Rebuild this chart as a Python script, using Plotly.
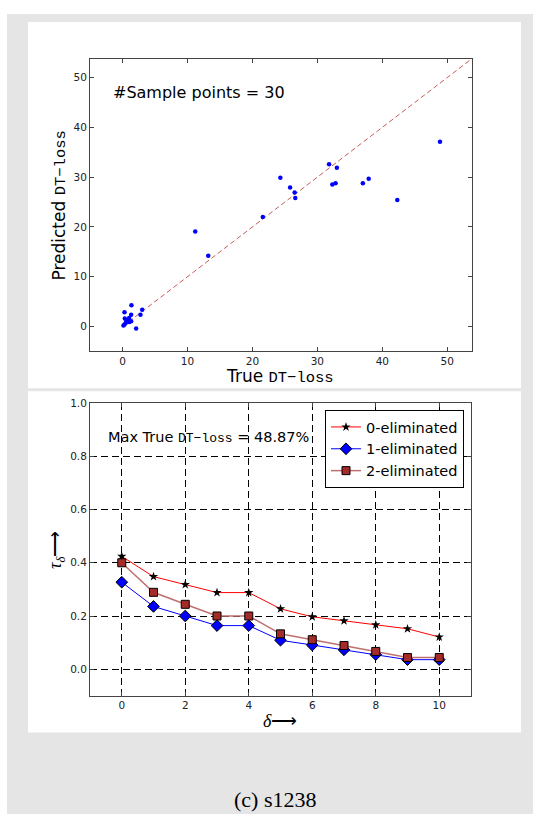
import plotly.graph_objects as go

# ---- scatter: true vs predicted DT-loss (30 sample points) ----
true_loss = [48.87, 42.3, 37.9, 37.0, 31.8, 33.0, 32.3, 32.8, 24.3, 25.8,
             26.5, 26.6, 21.6, 11.2, 13.2, 1.38, 0.31, 3.03, 2.77, 0.36,
             1.03, 1.33, 0.62, 1.03, 1.33, 0.31, 0.15, 2.10, 0.80, 0.50]
pred_loss = [37.1, 25.4, 29.7, 28.75, 32.6, 31.9, 28.5, 28.75, 29.9, 27.9,
             26.9, 25.8, 22.0, 19.1, 14.2, 4.25, 2.85, 3.39, 2.39, 1.59,
             1.73, 2.39, 1.13, 0.93, 1.06, 0.40, 0.20, -0.40, 1.30, 0.70]
ideal_line = [0, 53.5]

# ---- tau_delta curves ----
delta = [0, 1, 2, 3, 4, 5, 6, 7, 8, 9, 10]
tau_0 = [0.424, 0.348, 0.318, 0.288, 0.288, 0.227, 0.197, 0.182, 0.167, 0.152, 0.121]
tau_1 = [0.327, 0.236, 0.200, 0.164, 0.164, 0.109, 0.091, 0.073, 0.055, 0.036, 0.036]
tau_2 = [0.400, 0.289, 0.244, 0.200, 0.200, 0.133, 0.111, 0.089, 0.067, 0.044, 0.044]
series_names = ["0-eliminated", "1-eliminated", "2-eliminated"]

W, H = 533, 814
SANS = "DejaVu Sans"
MONO = "Liberation Mono"
SERIF = "Liberation Serif"


def px(x):
    return x / W


def py(y):
    return 1 - y / H


def mono(txt, size):
    return f"<span style='font-family:{MONO}; font-size:{size}px'>{txt}</span>"


fig = go.Figure()

# scatter panel
fig.add_trace(go.Scatter(
    x=ideal_line, y=ideal_line, mode="lines",
    line=dict(color="#c85a5a", width=1, dash="5px,3px"),
    xaxis="x", yaxis="y", showlegend=False, hoverinfo="skip"))
fig.add_trace(go.Scatter(
    x=true_loss, y=pred_loss, mode="markers",
    marker=dict(color="#0000ff", size=4.5, line=dict(width=0)),
    xaxis="x", yaxis="y", showlegend=False))

# tau_delta panel
fig.add_trace(go.Scatter(
    x=delta, y=tau_0, mode="lines+markers", name=series_names[0],
    line=dict(color="#ff0000", width=1),
    marker=dict(symbol="star", size=7, color="black", line=dict(width=0)),
    xaxis="x2", yaxis="y2"))
fig.add_trace(go.Scatter(
    x=delta, y=tau_1, mode="lines+markers", name=series_names[1],
    line=dict(color="#0000ff", width=1),
    marker=dict(symbol="diamond", size=9, color="#0000ff",
                line=dict(color="black", width=1)),
    xaxis="x2", yaxis="y2"))
fig.add_trace(go.Scatter(
    x=delta, y=tau_2, mode="lines+markers", name=series_names[2],
    line=dict(color="#bf7070", width=1.5),
    marker=dict(symbol="square", size=8, color="#a52a2a",
                line=dict(color="black", width=1)),
    xaxis="x2", yaxis="y2"))

frame = dict(showline=True, mirror="allticks", linecolor="#444", linewidth=1,
             ticks="inside", ticklen=4, tickcolor="#444", zeroline=False,
             tickfont=dict(family=SANS, size=10.5, color="#222"))

fig.update_layout(
    width=W, height=H,
    margin=dict(l=0, r=0, t=0, b=0),
    paper_bgcolor="white", plot_bgcolor="white",
    font=dict(family=SANS, color="black"),
    xaxis=dict(domain=[px(90), px(472)], range=[-5, 53.8], tickvals=[0, 10, 20, 30, 40, 50],
               showgrid=False, anchor="y", **frame),
    yaxis=dict(domain=[py(348), py(53)], range=[-5, 53.8], tickvals=[0, 10, 20, 30, 40, 50],
               showgrid=False, anchor="x", **frame),
    xaxis2=dict(domain=[px(90), px(471)], range=[-1, 11], tickvals=[0, 2, 4, 6, 8, 10],
                showgrid=True, gridcolor="black", gridwidth=1, griddash="7px,4px",
                anchor="y2", **frame),
    yaxis2=dict(domain=[py(695), py(400)], range=[-0.1, 1.0],
                tickvals=[0.0, 0.2, 0.4, 0.6, 0.8, 1.0], tickformat=".1f",
                showgrid=True, gridcolor="black", gridwidth=1, griddash="7px,4px",
                anchor="x2", **frame),
    legend=dict(x=px(464), y=py(407), xanchor="right", yanchor="top",
                bgcolor="white", bordercolor="black", borderwidth=1,
                font=dict(family=SANS, size=14.5, color="black"),
                itemwidth=30, tracegroupgap=0),
)

# page background: grey frame with two white panels
shapes = [
    dict(x0=px(7), x1=px(533), y0=py(8), y1=py(814), fillcolor="#e5e5e5"),
    dict(x0=px(28), x1=px(521), y0=py(16), y1=py(385), fillcolor="white"),
    dict(x0=px(28), x1=px(521), y0=py(388), y1=py(732), fillcolor="white"),
]
for s in shapes:
    fig.add_shape(type="rect", xref="paper", yref="paper", layer="below",
                  line=dict(width=0), **s)

annotations = [
    dict(x=px(111), y=py(87), xanchor="left", yanchor="middle",
         text="#Sample points = 30", font=dict(size=16)),
    dict(x=px(280), y=py(373), xanchor="center", yanchor="middle",
         text="True " + mono("DT\u2212loss", 15.5), font=dict(size=17)),
    dict(x=px(60), y=py(201), xanchor="center", yanchor="middle", textangle=-90,
         text="Predicted " + mono("DT\u2212loss", 15.5), font=dict(size=17)),
    dict(x=px(106), y=py(435), xanchor="left", yanchor="middle",
         text="Max True " + mono("DT\u2212loss", 13) + " = 48.87%",
         font=dict(size=14.5)),
    dict(x=px(57), y=py(548), xanchor="center", yanchor="middle", textangle=-90,
         text="<i>\u03c4</i><sub><i>\u03b4</i></sub>\u27f6",
         font=dict(family=SERIF, size=18)),
    dict(x=px(280), y=py(720), xanchor="center", yanchor="middle",
         text="<i>\u03b4</i>\u27f6", font=dict(family=SERIF, size=18)),
    dict(x=px(275), y=py(799), xanchor="center", yanchor="middle",
         text="(c) s1238", font=dict(family=SERIF, size=22)),
]
for a in annotations:
    fig.add_annotation(xref="paper", yref="paper", showarrow=False, **a)

fig.write_html("out.html")
